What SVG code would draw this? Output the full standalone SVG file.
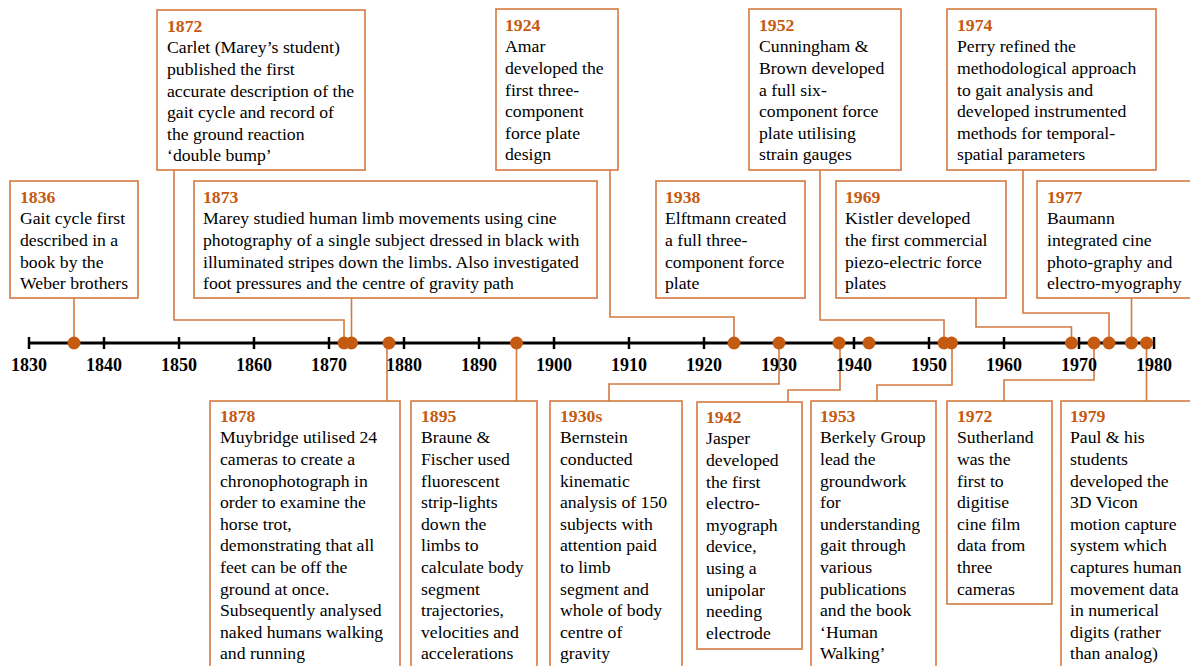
<svg xmlns="http://www.w3.org/2000/svg" width="1190" height="666" viewBox="0 0 1190 666">
<style>
.box{fill:#fff;stroke:#D47A40;stroke-width:1.6}
.yr{font-family:"Liberation Serif","Times New Roman",serif;font-size:17.7px;font-weight:bold;fill:#C55A11}
.tx{font-family:"Liberation Serif","Times New Roman",serif;font-size:17.7px;fill:#000}
.ax{font-family:"Liberation Serif","Times New Roman",serif;font-size:18px;font-weight:bold;fill:#000;text-anchor:middle}
.con{fill:none;stroke:#D47A40;stroke-width:1.6}
.dot{fill:#C55A11}
.t{transform:translate(0,-1.2px)}
</style>
<rect width="1190" height="666" fill="#fff"/>
<g id="connectors">
<polyline class="con" points="74,298 74,343"/>
<polyline class="con" points="174,170 174,320 344,320 344,343"/>
<polyline class="con" points="351.5,298 351.5,343"/>
<polyline class="con" points="610,170 610,317 734,317 734,343"/>
<polyline class="con" points="820,170 820,320 944,320 944,343"/>
<polyline class="con" points="976,298 976,327 1071.5,327 1071.5,343"/>
<polyline class="con" points="1023,170 1023,313 1109,313 1109,343"/>
<polyline class="con" points="1131.5,298 1131.5,343"/>
<polyline class="con" points="387,343 387,401"/>
<polyline class="con" points="516.5,343 516.5,401"/>
<polyline class="con" points="779,343 779,384 609,384 609,401"/>
<polyline class="con" points="840,343 840,390 788,390 788,402"/>
<polyline class="con" points="952,343 952,385 877,385 877,401"/>
<polyline class="con" points="1094,343 1094,380 1004,380 1004,401"/>
<polyline class="con" points="1146.5,343 1146.5,401"/>
</g>
<g id="axis">
<line x1="29" y1="343" x2="1155" y2="343" stroke="#000" stroke-width="3"/>
<g stroke="#000" stroke-width="2.5">
<line x1="29" y1="337" x2="29" y2="349"/><line x1="104" y1="337" x2="104" y2="349"/><line x1="179" y1="337" x2="179" y2="349"/><line x1="254" y1="337" x2="254" y2="349"/><line x1="329" y1="337" x2="329" y2="349"/><line x1="404" y1="337" x2="404" y2="349"/><line x1="479" y1="337" x2="479" y2="349"/><line x1="554" y1="337" x2="554" y2="349"/><line x1="629" y1="337" x2="629" y2="349"/><line x1="704" y1="337" x2="704" y2="349"/><line x1="779" y1="337" x2="779" y2="349"/><line x1="854" y1="337" x2="854" y2="349"/><line x1="929" y1="337" x2="929" y2="349"/><line x1="1004" y1="337" x2="1004" y2="349"/><line x1="1079" y1="337" x2="1079" y2="349"/><line x1="1154" y1="337" x2="1154" y2="349"/>
</g>
<text class="ax" x="29" y="371">1830</text><text class="ax" x="104" y="371">1840</text><text class="ax" x="179" y="371">1850</text><text class="ax" x="254" y="371">1860</text><text class="ax" x="329" y="371">1870</text><text class="ax" x="404" y="371">1880</text><text class="ax" x="479" y="371">1890</text><text class="ax" x="554" y="371">1900</text><text class="ax" x="629" y="371">1910</text><text class="ax" x="704" y="371">1920</text><text class="ax" x="779" y="371">1930</text><text class="ax" x="854" y="371">1940</text><text class="ax" x="929" y="371">1950</text><text class="ax" x="1004" y="371">1960</text><text class="ax" x="1079" y="371">1970</text><text class="ax" x="1154" y="371">1980</text>
</g>
<g id="dots">
<circle class="dot" cx="74" cy="343" r="6.5"/><circle class="dot" cx="344" cy="343" r="6.5"/><circle class="dot" cx="351.5" cy="343" r="6.5"/><circle class="dot" cx="389" cy="343" r="6.5"/><circle class="dot" cx="516.5" cy="343" r="6.5"/><circle class="dot" cx="734" cy="343" r="6.5"/><circle class="dot" cx="779" cy="343" r="6.5"/><circle class="dot" cx="839" cy="343" r="6.5"/><circle class="dot" cx="869" cy="343" r="6.5"/><circle class="dot" cx="944" cy="343" r="6.5"/><circle class="dot" cx="951.5" cy="343" r="6.5"/><circle class="dot" cx="1071.5" cy="343" r="6.5"/><circle class="dot" cx="1094" cy="343" r="6.5"/><circle class="dot" cx="1109" cy="343" r="6.5"/><circle class="dot" cx="1131.5" cy="343" r="6.5"/><circle class="dot" cx="1146.5" cy="343" r="6.5"/>
</g>
<g id="e1872"><rect class="box" x="157" y="10" width="208" height="160"/>
<g class="t"><text class="yr" x="167" y="33">1872</text>
<text class="tx" x="167" y="54.6">Carlet (Marey’s student)</text><text class="tx" x="167" y="76.2">published the first</text><text class="tx" x="167" y="97.8">accurate description of the</text><text class="tx" x="167" y="119.4">gait cycle and record of</text><text class="tx" x="167" y="141">the ground reaction</text><text class="tx" x="167" y="162.6">‘double bump’</text></g></g>
<g id="e1924"><rect class="box" x="496" y="9" width="122" height="161"/>
<g class="t"><text class="yr" x="505" y="32">1924</text>
<text class="tx" x="505" y="53.6">Amar</text><text class="tx" x="505" y="75.2">developed the</text><text class="tx" x="505" y="96.8">first three-</text><text class="tx" x="505" y="118.4">component</text><text class="tx" x="505" y="140">force plate</text><text class="tx" x="505" y="161.6">design</text></g></g>
<g id="e1952"><rect class="box" x="749" y="9" width="152" height="161"/>
<g class="t"><text class="yr" x="759" y="32">1952</text>
<text class="tx" x="759" y="53.6">Cunningham &amp;</text><text class="tx" x="759" y="75.2">Brown developed</text><text class="tx" x="759" y="96.8">a full six-</text><text class="tx" x="759" y="118.4">component force</text><text class="tx" x="759" y="140">plate utilising</text><text class="tx" x="759" y="161.6">strain gauges</text></g></g>
<g id="e1974"><rect class="box" x="947" y="9" width="209" height="161"/>
<g class="t"><text class="yr" x="957" y="32">1974</text>
<text class="tx" x="957" y="53.6">Perry refined the</text><text class="tx" x="957" y="75.2">methodological approach</text><text class="tx" x="957" y="96.8">to gait analysis and</text><text class="tx" x="957" y="118.4">developed instrumented</text><text class="tx" x="957" y="140">methods for temporal-</text><text class="tx" x="957" y="161.6">spatial parameters</text></g></g>
<g id="e1836"><rect class="box" x="10" y="181" width="128" height="117"/>
<g class="t"><text class="yr" x="20" y="204">1836</text>
<text class="tx" x="20" y="225.6">Gait cycle first</text><text class="tx" x="20" y="247.2">described in a</text><text class="tx" x="20" y="268.8">book by the</text><text class="tx" x="20" y="290.4">Weber brothers</text></g></g>
<g id="e1873"><rect class="box" x="194" y="181" width="403" height="117"/>
<g class="t"><text class="yr" x="203" y="204">1873</text>
<text class="tx" x="203" y="225.6">Marey studied human limb movements using cine</text><text class="tx" x="203" y="247.2">photography of a single subject dressed in black with</text><text class="tx" x="203" y="268.8">illuminated stripes down the limbs. Also investigated</text><text class="tx" x="203" y="290.4">foot pressures and the centre of gravity path</text></g></g>
<g id="e1938"><rect class="box" x="656" y="181" width="149" height="117"/>
<g class="t"><text class="yr" x="665" y="204">1938</text>
<text class="tx" x="665" y="225.6">Elftmann created</text><text class="tx" x="665" y="247.2">a full three-</text><text class="tx" x="665" y="268.8">component force</text><text class="tx" x="665" y="290.4">plate</text></g></g>
<g id="e1969"><rect class="box" x="836" y="181" width="170" height="117"/>
<g class="t"><text class="yr" x="845" y="204">1969</text>
<text class="tx" x="845" y="225.6">Kistler developed</text><text class="tx" x="845" y="247.2">the first commercial</text><text class="tx" x="845" y="268.8">piezo-electric force</text><text class="tx" x="845" y="290.4">plates</text></g></g>
<g id="e1977"><rect class="box" x="1037" y="181" width="160" height="117"/>
<g class="t"><text class="yr" x="1047" y="204">1977</text>
<text class="tx" x="1047" y="225.6">Baumann</text><text class="tx" x="1047" y="247.2">integrated cine</text><text class="tx" x="1047" y="268.8">photo-graphy and</text><text class="tx" x="1047" y="290.4">electro-myography</text></g></g>
<g id="e1878"><rect class="box" x="210" y="401" width="190" height="275"/>
<g class="t"><text class="yr" x="220" y="423">1878</text>
<text class="tx" x="220" y="444.6">Muybridge utilised 24</text><text class="tx" x="220" y="466.2">cameras to create a</text><text class="tx" x="220" y="487.8">chronophotograph in</text><text class="tx" x="220" y="509.4">order to examine the</text><text class="tx" x="220" y="531">horse trot,</text><text class="tx" x="220" y="552.6">demonstrating that all</text><text class="tx" x="220" y="574.2">feet can be off the</text><text class="tx" x="220" y="595.8">ground at once.</text><text class="tx" x="220" y="617.4">Subsequently analysed</text><text class="tx" x="220" y="639">naked humans walking</text><text class="tx" x="220" y="660.6">and running</text></g></g>
<g id="e1895"><rect class="box" x="411" y="401" width="126" height="275"/>
<g class="t"><text class="yr" x="421" y="423">1895</text>
<text class="tx" x="421" y="444.6">Braune &amp;</text><text class="tx" x="421" y="466.2">Fischer used</text><text class="tx" x="421" y="487.8">fluorescent</text><text class="tx" x="421" y="509.4">strip-lights</text><text class="tx" x="421" y="531">down the</text><text class="tx" x="421" y="552.6">limbs to</text><text class="tx" x="421" y="574.2">calculate body</text><text class="tx" x="421" y="595.8">segment</text><text class="tx" x="421" y="617.4">trajectories,</text><text class="tx" x="421" y="639">velocities and</text><text class="tx" x="421" y="660.6">accelerations</text></g></g>
<g id="e1930s"><rect class="box" x="550" y="401" width="132" height="275"/>
<g class="t"><text class="yr" x="560" y="423">1930s</text>
<text class="tx" x="560" y="444.6">Bernstein</text><text class="tx" x="560" y="466.2">conducted</text><text class="tx" x="560" y="487.8">kinematic</text><text class="tx" x="560" y="509.4">analysis of 150</text><text class="tx" x="560" y="531">subjects with</text><text class="tx" x="560" y="552.6">attention paid</text><text class="tx" x="560" y="574.2">to limb</text><text class="tx" x="560" y="595.8">segment and</text><text class="tx" x="560" y="617.4">whole of body</text><text class="tx" x="560" y="639">centre of</text><text class="tx" x="560" y="660.6">gravity</text></g></g>
<g id="e1942"><rect class="box" x="697" y="402" width="105" height="247"/>
<g class="t"><text class="yr" x="706" y="424">1942</text>
<text class="tx" x="706" y="445.6">Jasper</text><text class="tx" x="706" y="467.2">developed</text><text class="tx" x="706" y="488.8">the first</text><text class="tx" x="706" y="510.4">electro-</text><text class="tx" x="706" y="532">myograph</text><text class="tx" x="706" y="553.6">device,</text><text class="tx" x="706" y="575.2">using a</text><text class="tx" x="706" y="596.8">unipolar</text><text class="tx" x="706" y="618.4">needing</text><text class="tx" x="706" y="640">electrode</text></g></g>
<g id="e1953"><rect class="box" x="811" y="401" width="125" height="275"/>
<g class="t"><text class="yr" x="820" y="423">1953</text>
<text class="tx" x="820" y="444.6">Berkely Group</text><text class="tx" x="820" y="466.2">lead the</text><text class="tx" x="820" y="487.8">groundwork</text><text class="tx" x="820" y="509.4">for</text><text class="tx" x="820" y="531">understanding</text><text class="tx" x="820" y="552.6">gait through</text><text class="tx" x="820" y="574.2">various</text><text class="tx" x="820" y="595.8">publications</text><text class="tx" x="820" y="617.4">and the book</text><text class="tx" x="820" y="639">‘Human</text><text class="tx" x="820" y="660.6">Walking’</text></g></g>
<g id="e1972"><rect class="box" x="947" y="401" width="105" height="203"/>
<g class="t"><text class="yr" x="957" y="423">1972</text>
<text class="tx" x="957" y="444.6">Sutherland</text><text class="tx" x="957" y="466.2">was the</text><text class="tx" x="957" y="487.8">first to</text><text class="tx" x="957" y="509.4">digitise</text><text class="tx" x="957" y="531">cine film</text><text class="tx" x="957" y="552.6">data from</text><text class="tx" x="957" y="574.2">three</text><text class="tx" x="957" y="595.8">cameras</text></g></g>
<g id="e1979"><rect class="box" x="1061" y="401" width="140" height="275"/>
<g class="t"><text class="yr" x="1070" y="423">1979</text>
<text class="tx" x="1070" y="444.6">Paul &amp; his</text><text class="tx" x="1070" y="466.2">students</text><text class="tx" x="1070" y="487.8">developed the</text><text class="tx" x="1070" y="509.4">3D Vicon</text><text class="tx" x="1070" y="531">motion capture</text><text class="tx" x="1070" y="552.6">system which</text><text class="tx" x="1070" y="574.2">captures human</text><text class="tx" x="1070" y="595.8">movement data</text><text class="tx" x="1070" y="617.4">in numerical</text><text class="tx" x="1070" y="639">digits (rather</text><text class="tx" x="1070" y="660.6">than analog)</text></g></g>
</svg>
